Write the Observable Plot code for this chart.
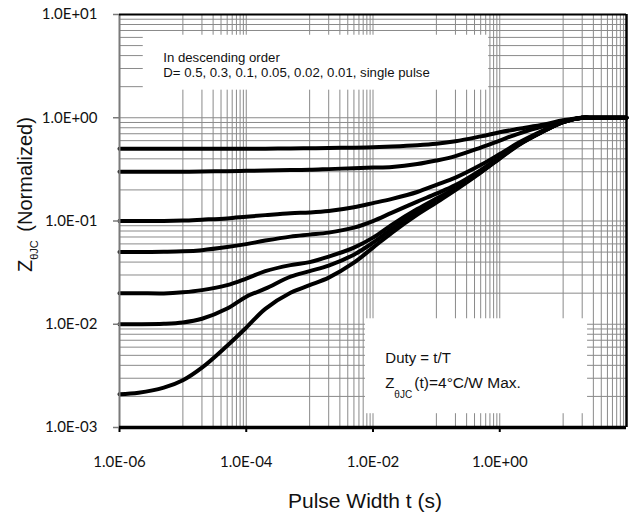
<!DOCTYPE html>
<html>
<head>
<meta charset="utf-8">
<script src="https://cdn.jsdelivr.net/npm/d3@7"></script>
<script src="https://cdn.jsdelivr.net/npm/@observablehq/plot@0.6"></script>
<style>
  html, body { margin: 0; padding: 0; background: #fff; }
  svg { display: block; }
</style>
</head>
<body>
<div id="chart"></div>
<script>
// Pulse width t (s)
const pulseWidth = [1e-6, 2e-6, 5e-6, 1e-5, 2e-5, 5e-5, 1e-4, 2e-4, 5e-4, 1e-3, 2e-3, 5e-3, 1e-2, 2e-2, 5e-2, 1e-1, 2e-1, 5e-1, 1, 2, 5, 10, 20, 30, 100];
// Normalized Z_thetaJC for each duty cycle (descending order)
const seriesNames = ["D=0.5", "D=0.3", "D=0.1", "D=0.05", "D=0.02", "D=0.01", "single pulse"];
const zD05    = [0.50, 0.50, 0.50, 0.50, 0.50, 0.50, 0.50, 0.502, 0.504, 0.506, 0.509, 0.513, 0.518, 0.526, 0.541, 0.559, 0.591, 0.660, 0.724, 0.781, 0.859, 0.944, 1.0, 1.0, 1.0];
const zD03    = [0.30, 0.30, 0.30, 0.30, 0.302, 0.304, 0.306, 0.308, 0.311, 0.313, 0.318, 0.325, 0.329, 0.334, 0.356, 0.385, 0.425, 0.514, 0.601, 0.703, 0.831, 0.923, 1.0, 1.0, 1.0];
const zD01    = [0.10, 0.10, 0.100, 0.101, 0.103, 0.106, 0.110, 0.114, 0.119, 0.121, 0.125, 0.136, 0.149, 0.164, 0.191, 0.224, 0.263, 0.348, 0.445, 0.575, 0.760, 0.913, 1.0, 1.0, 1.0];
const zD005   = [0.05, 0.05, 0.0503, 0.0508, 0.0522, 0.0559, 0.0597, 0.0646, 0.0706, 0.0738, 0.0772, 0.0863, 0.0998, 0.1206, 0.1542, 0.1842, 0.2228, 0.311, 0.416, 0.556, 0.752, 0.908, 1.0, 1.0, 1.0];
const zD002   = [0.02, 0.02, 0.0199, 0.0204, 0.0214, 0.0239, 0.0277, 0.0327, 0.0374, 0.0400, 0.0452, 0.0552, 0.0690, 0.0923, 0.1304, 0.165, 0.208, 0.301, 0.412, 0.552, 0.747, 0.908, 1.0, 1.0, 1.0];
const zD001   = [0.01, 0.01, 0.0101, 0.0104, 0.0113, 0.0142, 0.0185, 0.0221, 0.0289, 0.0327, 0.0370, 0.0472, 0.0617, 0.0844, 0.122, 0.156, 0.204, 0.298, 0.407, 0.550, 0.743, 0.908, 1.0, 1.0, 1.0];
const zSingle = [0.0021, 0.00217, 0.00243, 0.00287, 0.0038, 0.0062, 0.00927, 0.0141, 0.0202, 0.0239, 0.0283, 0.0395, 0.0552, 0.0772, 0.1153, 0.151, 0.199, 0.294, 0.4025, 0.544, 0.743, 0.908, 1.0, 1.0, 1.0];

// Axis tick values
const xTicks = [1e-6, 1e-4, 1e-2, 1];
const yTicks = [1e-3, 1e-2, 1e-1, 1, 10];

// Annotation texts
const noteTop = ["In descending order", "D= 0.5, 0.3, 0.1, 0.05, 0.02, 0.01, single pulse"];
const noteDuty = "Duty = t/T";
const noteZ = ["Z", "θJC", "(t)=4°C/W Max."];
const xTitle = "Pulse Width t (s)";
const yTitle = ["Z", "θJC", " (Normalized)"];

// ---- build table ----
const allSeries = [zD05, zD03, zD01, zD005, zD002, zD001, zSingle];
const rows = [];
allSeries.forEach((arr, i) => arr.forEach((z, j) => rows.push({series: seriesNames[i], t: pulseWidth[j], z})));

// grid lines (Excel-style: x minor lines only in alternate decades)
const xGrid = [];
for (const n of [-5, -3, -1, 1]) for (let k = 1; k <= 10; k++) xGrid.push(k * Math.pow(10, n));
const yGrid = [];
for (const n of [-3, -2, -1, 0]) for (let k = 1; k <= 9; k++) yGrid.push(k * Math.pow(10, n));

const fmt = d => {
  const e = Math.round(Math.log10(d));
  return "1.0E" + (e < 0 ? "-" : "+") + String(Math.abs(e)).padStart(2, "0");
};

// annotation boxes (in data units)
const boxTop = {x1: 2.37e-6, x2: 0.67, y1: 1.85, y2: 6.3};
const boxBottom = {x1: 7.6e-3, x2: 24.3, y1: 0.00136, y2: 0.0113};

const grid = "#8a8a8a";
const font = "Liberation Sans, Arial, sans-serif";
const chart = Plot.plot({
  width: 631,
  height: 520,
  marginLeft: 119,
  marginRight: 5,
  marginTop: 14,
  marginBottom: 93,
  style: {background: "#fff", fontFamily: "Lato, sans-serif", fontSize: "15px", color: "#111"},
  x: {type: "log", domain: [1e-6, 100]},
  y: {type: "log", domain: [1e-3, 10]},
  marks: [
    Plot.ruleX(xGrid, {stroke: grid, strokeWidth: 1}),
    Plot.ruleY(yGrid, {stroke: grid, strokeWidth: 1}),
    Plot.rect([boxTop], {x1: "x1", x2: "x2", y1: "y1", y2: "y2", fill: "#fff"}),
    Plot.rect([boxBottom], {x1: "x1", x2: "x2", y1: "y1", y2: "y2", fill: "#fff"}),
    Plot.line(rows, {x: "t", y: "z", z: "series", stroke: "#000", strokeWidth: 4, curve: "catmull-rom"}),
    Plot.ruleX([1e-6], {stroke: "#7a7a7a", strokeWidth: 2}),
    Plot.ruleY([10], {stroke: "#000", strokeWidth: 2}),
    Plot.ruleX([100], {stroke: "#000", strokeWidth: 2.5}),
    Plot.ruleY([1e-3], {stroke: "#000", strokeWidth: 3.3}),
    Plot.axisX(xTicks, {tickFormat: fmt, tickSize: 5, tickPadding: 24, label: null, stroke: "#000", strokeWidth: 2}),
    Plot.axisY(yTicks, {tickFormat: fmt, tickSize: 6, tickPadding: 16, label: null, stroke: "#7a7a7a", strokeWidth: 1.5}),
    Plot.text([noteTop[0]], {x: 4.9e-6, y: 3.5, text: d => d, textAnchor: "start", lineAnchor: "bottom", fontFamily: font, fontSize: 13.2, fill: "#111"}),
    Plot.text([noteTop[1]], {x: 4.9e-6, y: 2.5, text: d => d, textAnchor: "start", lineAnchor: "bottom", fontFamily: font, fontSize: 13.2, fill: "#111"}),
    Plot.text([noteDuty], {x: 0.01567, y: 0.00425, text: d => d, textAnchor: "start", lineAnchor: "bottom", fontFamily: font, fontSize: 15, fill: "#111"}),
    Plot.text([noteZ[0]], {x: 0.01567, y: 0.00243, text: d => d, textAnchor: "start", lineAnchor: "bottom", fontFamily: font, fontSize: 15, fill: "#111"}),
    Plot.text([noteZ[1]], {x: 0.01567, y: 0.00195, dx: 9, text: d => d, textAnchor: "start", lineAnchor: "bottom", fontFamily: font, fontSize: 10, fill: "#111"}),
    Plot.text([noteZ[2]], {x: 0.01567, y: 0.00243, dx: 29, text: d => d, textAnchor: "start", lineAnchor: "bottom", fontFamily: font, fontSize: 15.5, fill: "#111"})
  ]
});

const svg = d3.select(chart);
// x axis title
svg.append("text")
  .attr("x", 365).attr("y", 508)
  .attr("text-anchor", "middle")
  .attr("font-family", font)
  .attr("font-size", 21)
  .attr("fill", "#111")
  .text(xTitle);
// y axis title with subscript
const yl = svg.append("text")
  .attr("transform", "translate(32,272) rotate(-90)")
  .attr("text-anchor", "start")
  .attr("font-family", font)
  .attr("font-size", 20)
  .attr("fill", "#111");
yl.append("tspan").text(yTitle[0]);
yl.append("tspan").attr("font-size", 11).attr("dy", 6).text(yTitle[1]);
yl.append("tspan").attr("dy", -6).attr("dx", 3).text(yTitle[2]);

document.getElementById("chart").appendChild(chart);
</script>
</body>
</html>
